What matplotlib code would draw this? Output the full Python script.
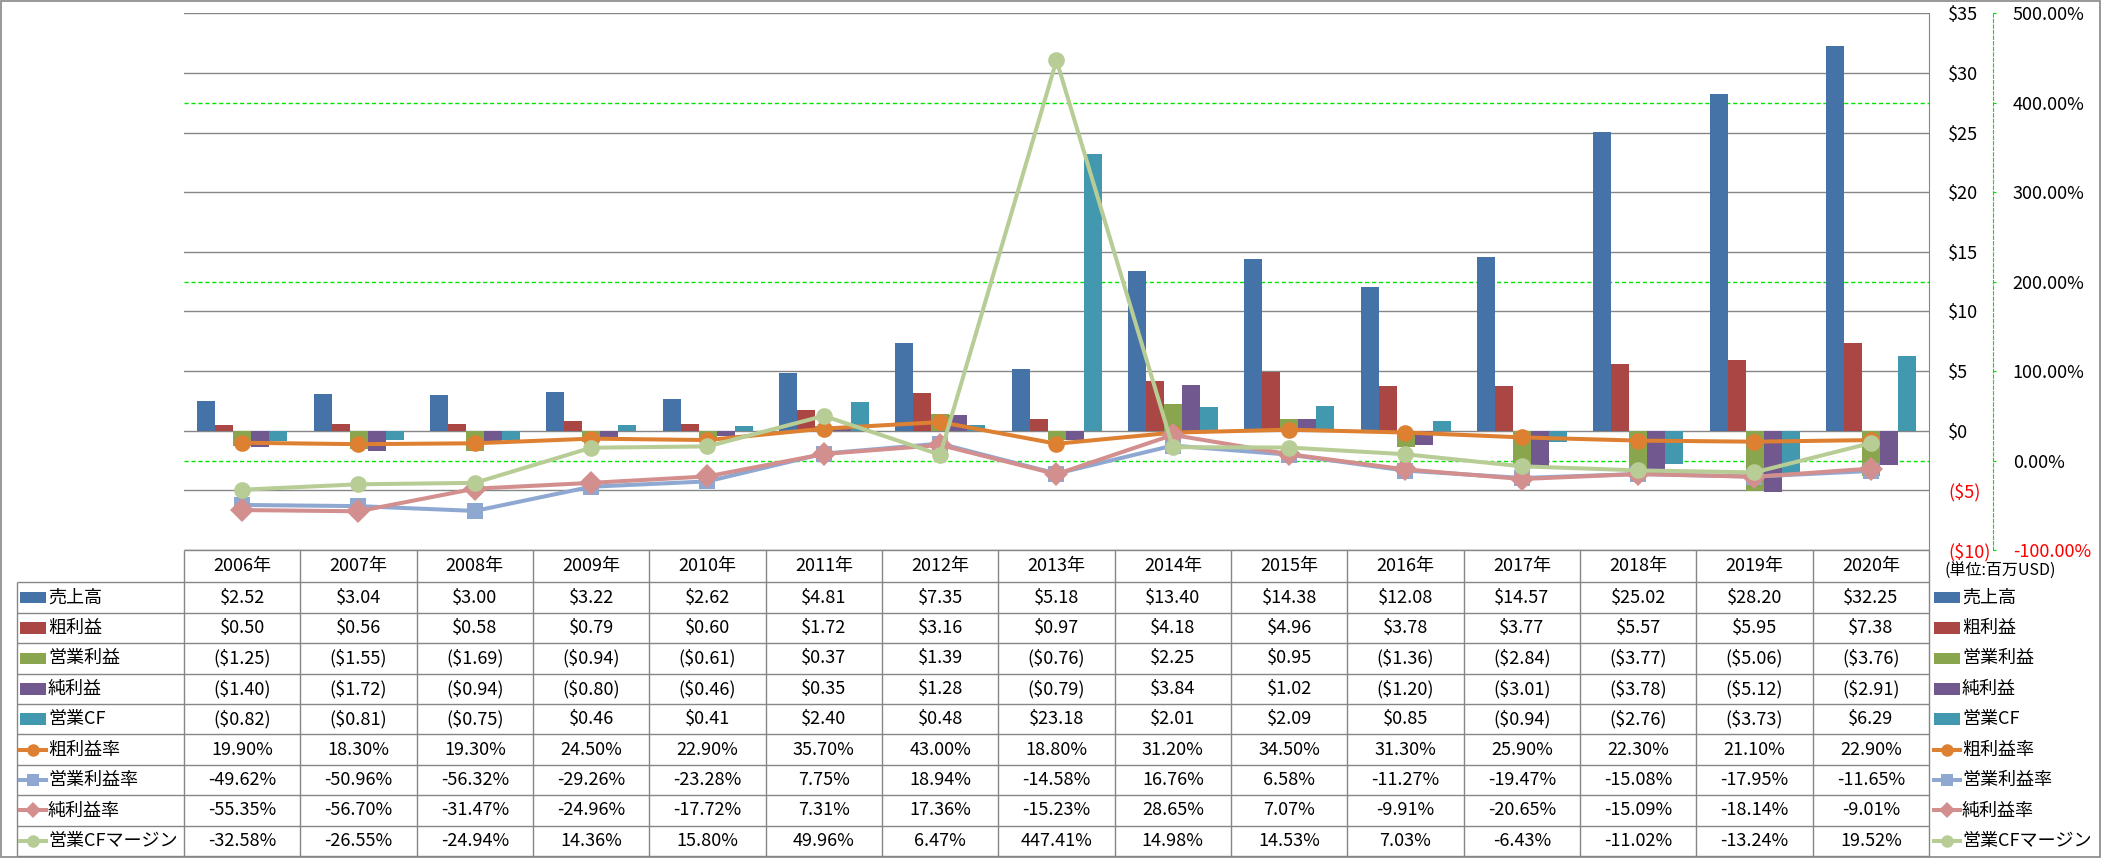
import matplotlib
matplotlib.use("Agg")
import matplotlib.pyplot as plt
from matplotlib.patches import Rectangle
from matplotlib.ticker import FuncFormatter, MultipleLocator
from matplotlib.transforms import blended_transform_factory

plt.rcParams["font.family"] = ["Noto Sans CJK JP", "DejaVu Sans"]

# ── data (百万USD / %) ─────────────────────────────────────────
years = [f"{y}年" for y in range(2006, 2021)]

bar_names = ["売上高", "粗利益", "営業利益", "純利益", "営業CF"]
sales = [2.52, 3.04, 3.00, 3.22, 2.62, 4.81, 7.35, 5.18, 13.40, 14.38, 12.08, 14.57, 25.02, 28.20, 32.25]
gross = [0.50, 0.56, 0.58, 0.79, 0.60, 1.72, 3.16, 0.97, 4.18, 4.96, 3.78, 3.77, 5.57, 5.95, 7.38]
op_income = [-1.25, -1.55, -1.69, -0.94, -0.61, 0.37, 1.39, -0.76, 2.25, 0.95, -1.36, -2.84, -3.77, -5.06, -3.76]
net_income = [-1.40, -1.72, -0.94, -0.80, -0.46, 0.35, 1.28, -0.79, 3.84, 1.02, -1.20, -3.01, -3.78, -5.12, -2.91]
op_cf = [-0.82, -0.81, -0.75, 0.46, 0.41, 2.40, 0.48, 23.18, 2.01, 2.09, 0.85, -0.94, -2.76, -3.73, 6.29]

line_names = ["粗利益率", "営業利益率", "純利益率", "営業CFマージン"]
gross_margin = [19.90, 18.30, 19.30, 24.50, 22.90, 35.70, 43.00, 18.80, 31.20, 34.50, 31.30, 25.90, 22.30, 21.10, 22.90]
op_margin = [-49.62, -50.96, -56.32, -29.26, -23.28, 7.75, 18.94, -14.58, 16.76, 6.58, -11.27, -19.47, -15.08, -17.95, -11.65]
net_margin = [-55.35, -56.70, -31.47, -24.96, -17.72, 7.31, 17.36, -15.23, 28.65, 7.07, -9.91, -20.65, -15.09, -18.14, -9.01]
cf_margin = [-32.58, -26.55, -24.94, 14.36, 15.80, 49.96, 6.47, 447.41, 14.98, 14.53, 7.03, -6.43, -11.02, -13.24, 19.52]

bar_series = [sales, gross, op_income, net_income, op_cf]
line_series = [gross_margin, op_margin, net_margin, cf_margin]

bar_colors = ["#4572A7", "#AA4643", "#89A54E", "#71588F", "#4198AF"]
line_colors = ["#DE8032", "#8FA8D2", "#D38E8E", "#B7CD95"]
line_markers = ["o", "s", "D", "o"]
GRID = "#868686"
LIME = "#00E600"
RED = "#FF0000"


def fmt_usd(v, nd=2):
    return f"${v:.{nd}f}" if v >= 0 else f"(${-v:.{nd}f})"


def fmt_pct(v):
    return f"{v:.2f}%"


# ── layout (pixels) ───────────────────────────────────────────
W, H = 2101, 858
PL, PR, PT, PB = 184, 1929, 13.3, 550
n = len(years)
CW = (PR - PL) / n
HDR_BOT = 582.3
ROW_H = (856 - HDR_BOT) / 9
FS = 13

fig = plt.figure(figsize=(W / 100, H / 100), dpi=100)
ax = fig.add_axes([PL / W, 1 - PB / H, (PR - PL) / W, (PB - PT) / H])
x = list(range(n))
bw = 18 / CW
for i, (vals, c) in enumerate(zip(bar_series, bar_colors)):
    ax.bar([xi + (i - 2) * bw for xi in x], vals, width=bw, color=c,
           linewidth=0, zorder=3)
ax.set_xlim(-0.5, n - 0.5)
ax.set_ylim(-10, 35)

ax2 = ax.twinx()
ax2.set_ylim(-100, 500)

# primary $ axis: labels on the right of the plot (twinx resets to left)
ax.yaxis.set_major_locator(MultipleLocator(5))
ax.yaxis.set_major_formatter(FuncFormatter(lambda v, p: fmt_usd(v, 0)))
ax.yaxis.tick_right()
ax.yaxis.set_label_position("right")
ax.tick_params(axis="y", length=0, pad=13.7, labelsize=FS,
               labelleft=False, labelright=True)
ax.set_xticks([])
ax.grid(True, axis="y", color=GRID, linewidth=1, zorder=0)
for s in ["left", "top", "bottom"]:
    ax.spines[s].set_visible(False)
ax.spines["right"].set_color(GRID)

ax2.yaxis.set_major_locator(MultipleLocator(100))
ax2.yaxis.set_major_formatter(FuncFormatter(lambda v, p: fmt_pct(v)))
ax2.tick_params(axis="y", direction="out", length=2, color=LIME, pad=12.2, labelsize=FS)
for s in ["left", "top", "bottom"]:
    ax2.spines[s].set_visible(False)
ax2.spines["right"].set_position(("axes", (1993 - PL) / (PR - PL)))
ax2.spines["right"].set_color(LIME)
ax2.spines["right"].set_linestyle((0, (3, 2)))

# secondary gridlines, drawn in the primary axes so the bars cover them
tr = blended_transform_factory(ax.transAxes, ax2.transData)
for v in [0, 200, 400]:
    ax.plot([0, 1], [v, v], transform=tr, color=LIME, lw=1,
            linestyle=(0, (3, 2)), zorder=1)

for vals, c, m in zip(line_series, line_colors, line_markers):
    ax2.plot(x, vals, color=c, lw=2.9, marker=m, markersize=12,
             markeredgewidth=0, solid_joinstyle="round", zorder=3)

fig.canvas.draw()
for t in ax.get_yticklabels():
    if t.get_text().startswith("("):
        t.set_color(RED)
for t in ax2.get_yticklabels():
    if t.get_text().startswith("-"):
        t.set_color(RED)

# ── data table ────────────────────────────────────────────────
tax = fig.add_axes([0, 0, 1, 1])
tax.set_xlim(0, W)
tax.set_ylim(H, 0)
tax.axis("off")


def hline(y, x0, x1):
    tax.plot([x0, x1], [y, y], color=GRID, lw=1, solid_capstyle="butt")


def vline(xp, y0, y1):
    tax.plot([xp, xp], [y0, y1], color=GRID, lw=1, solid_capstyle="butt")


LEG_L = 16.7
hline(PB, PL, PR)
for k in range(10):
    hline(HDR_BOT + k * ROW_H, LEG_L, PR)
for k in range(n + 1):
    vline(PL + k * CW, PB, 856)
vline(LEG_L, HDR_BOT, 856)

for k, yr in enumerate(years):
    tax.text(PL + (k + 0.5) * CW, (PB + HDR_BOT) / 2, yr, ha="center",
             va="center", fontsize=FS)

row_names = bar_names + line_names
row_vals = bar_series + line_series
row_colors = bar_colors + line_colors
for r, (name, vals, c) in enumerate(zip(row_names, row_vals, row_colors)):
    yc = HDR_BOT + (r + 0.5) * ROW_H
    is_bar = r < len(bar_names)
    for k, v in enumerate(vals):
        s = fmt_usd(v) if is_bar else fmt_pct(v)
        tax.text(PL + (k + 0.5) * CW, yc, s, ha="center", va="center", fontsize=FS)
    for x0, tx in [(20, 48), (1934, 1962)]:
        if is_bar:
            tax.add_patch(Rectangle((x0, yc - 5.8), 25.5, 11.6, color=c, lw=0))
        else:
            m = line_markers[r - len(bar_names)]
            tax.plot([x0, x0 + 25.5], [yc, yc], color=c, lw=2.9)
            tax.plot([x0 + 12.7], [yc], marker=m, color=c,
                     markersize=9 if m != "D" else 8.5, markeredgewidth=0)
        tax.text(tx, yc, name, ha="left", va="center", fontsize=FS)

tax.text(1945, 571, "(単位:百万USD)", ha="left", va="center", fontsize=11.5)

# outer border
tax.add_patch(Rectangle((0.5, 0.5), W - 1.5, H - 1.5, fill=False,
                        edgecolor=GRID, lw=1.2))

fig.savefig("out.png", dpi=100)
